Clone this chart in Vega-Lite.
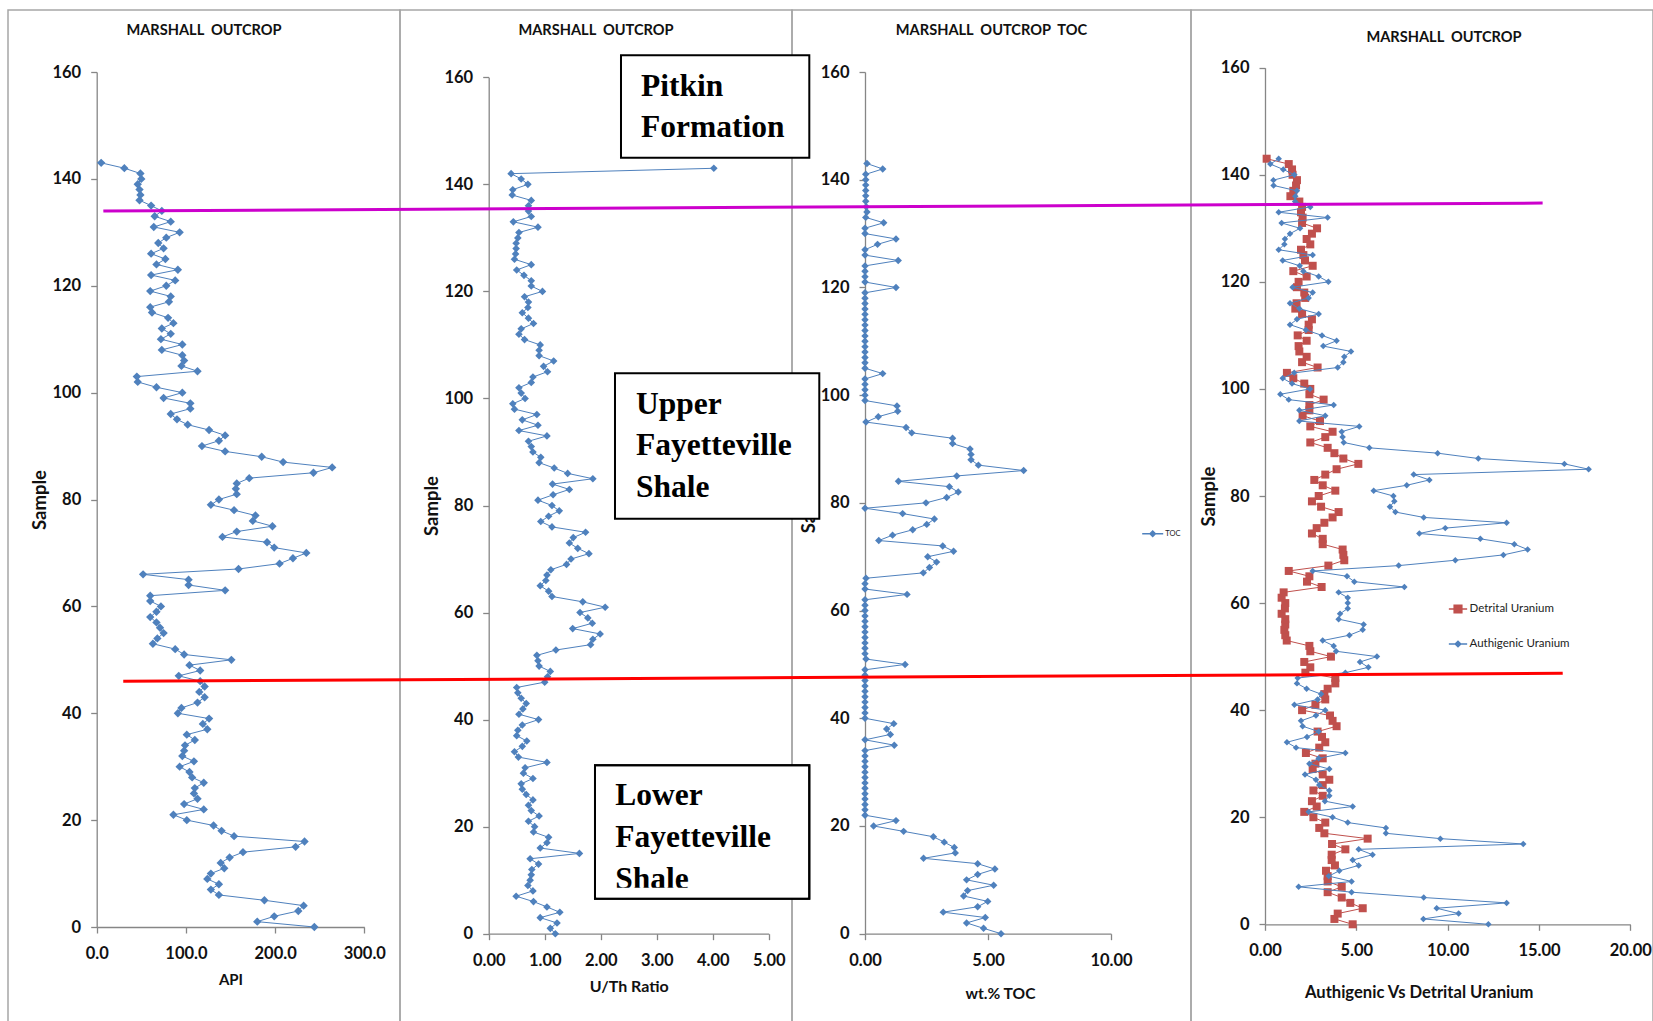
{
 "$schema": "https://vega.github.io/schema/vega-lite/v6.json",
 "padding": {"left": 7, "top": 9, "right": 0, "bottom": 0},
 "background": "white",
 "datasets": {"samples": [
  {"Sample":0,"API":244,"UTh":1.19,"TOC":5.53,"Detrital":4.80,"Authigenic":12.23},
  {"Sample":1,"API":180,"UTh":1.10,"TOC":4.82,"Detrital":3.80,"Authigenic":8.67},
  {"Sample":2,"API":199,"UTh":1.22,"TOC":4.13,"Detrital":3.98,"Authigenic":10.60},
  {"Sample":3,"API":226,"UTh":0.92,"TOC":4.89,"Detrital":5.35,"Authigenic":9.40},
  {"Sample":4,"API":232,"UTh":1.27,"TOC":3.18,"Detrital":4.67,"Authigenic":13.23},
  {"Sample":5,"API":188,"UTh":1.04,"TOC":4.58,"Detrital":4.20,"Authigenic":8.69},
  {"Sample":6,"API":137,"UTh":0.80,"TOC":4.99,"Detrital":3.43,"Authigenic":4.74},
  {"Sample":7,"API":128,"UTh":0.49,"TOC":4.01,"Detrital":4.20,"Authigenic":1.84},
  {"Sample":8,"API":137,"UTh":0.79,"TOC":4.17,"Detrital":3.43,"Authigenic":4.74},
  {"Sample":9,"API":124,"UTh":0.70,"TOC":5.23,"Detrital":3.43,"Authigenic":3.49},
  {"Sample":10,"API":128,"UTh":0.74,"TOC":4.13,"Detrital":3.34,"Authigenic":4.07},
  {"Sample":11,"API":143,"UTh":0.76,"TOC":4.58,"Detrital":3.83,"Authigenic":5.13},
  {"Sample":12,"API":139,"UTh":0.77,"TOC":5.28,"Detrital":3.65,"Authigenic":4.80},
  {"Sample":13,"API":149,"UTh":0.89,"TOC":4.58,"Detrital":3.65,"Authigenic":5.89},
  {"Sample":14,"API":164,"UTh":0.74,"TOC":2.38,"Detrital":4.40,"Authigenic":5.13},
  {"Sample":15,"API":223,"UTh":1.62,"TOC":3.67,"Detrital":3.67,"Authigenic":14.14},
  {"Sample":16,"API":233,"UTh":0.92,"TOC":3.63,"Detrital":5.62,"Authigenic":9.60},
  {"Sample":17,"API":154,"UTh":1.04,"TOC":3.22,"Detrital":3.25,"Authigenic":6.62},
  {"Sample":18,"API":140,"UTh":1.07,"TOC":2.78,"Detrital":2.97,"Authigenic":6.62},
  {"Sample":19,"API":131,"UTh":0.80,"TOC":1.57,"Detrital":3.30,"Authigenic":4.53},
  {"Sample":20,"API":101,"UTh":0.82,"TOC":0.35,"Detrital":2.65,"Authigenic":3.70},
  {"Sample":21,"API":86,"UTh":0.71,"TOC":1.26,"Detrital":2.15,"Authigenic":2.39},
  {"Sample":22,"API":120,"UTh":0.90,"TOC":0,"Detrital":2.83,"Authigenic":4.80},
  {"Sample":23,"API":98,"UTh":0.76,"TOC":0,"Detrital":2.57,"Authigenic":3.28},
  {"Sample":24,"API":113,"UTh":0.71,"TOC":0,"Detrital":3.16,"Authigenic":3.52},
  {"Sample":25,"API":109,"UTh":0.79,"TOC":0,"Detrital":2.65,"Authigenic":3.52},
  {"Sample":26,"API":110,"UTh":0.67,"TOC":0,"Detrital":3.16,"Authigenic":2.97},
  {"Sample":27,"API":120,"UTh":0.60,"TOC":0,"Detrital":3.52,"Authigenic":2.79},
  {"Sample":28,"API":107,"UTh":0.58,"TOC":0,"Detrital":3.16,"Authigenic":2.19},
  {"Sample":29,"API":104,"UTh":0.79,"TOC":0,"Detrital":2.61,"Authigenic":3.52},
  {"Sample":30,"API":93,"UTh":0.62,"TOC":0,"Detrital":2.76,"Authigenic":2.43},
  {"Sample":31,"API":109,"UTh":0.65,"TOC":0,"Detrital":3.16,"Authigenic":2.94},
  {"Sample":32,"API":96,"UTh":1.04,"TOC":0,"Detrital":2.24,"Authigenic":4.40},
  {"Sample":33,"API":98,"UTh":0.53,"TOC":0,"Detrital":2.97,"Authigenic":1.70},
  {"Sample":34,"API":99,"UTh":0.46,"TOC":0,"Detrital":3.30,"Authigenic":1.20},
  {"Sample":35,"API":110,"UTh":0.60,"TOC":1.19,"Detrital":3.12,"Authigenic":2.30},
  {"Sample":36,"API":101,"UTh":0.68,"TOC":0,"Detrital":2.88,"Authigenic":2.94},
  {"Sample":37,"API":124,"UTh":0.50,"TOC":1.03,"Detrital":3.92,"Authigenic":2.06},
  {"Sample":38,"API":119,"UTh":0.52,"TOC":0.88,"Detrital":3.70,"Authigenic":1.97},
  {"Sample":39,"API":126,"UTh":0.60,"TOC":1.17,"Detrital":3.56,"Authigenic":2.79},
  {"Sample":40,"API":91,"UTh":0.89,"TOC":0,"Detrital":2.03,"Authigenic":3.30},
  {"Sample":41,"API":95,"UTh":0.54,"TOC":0,"Detrital":2.76,"Authigenic":1.61},
  {"Sample":42,"API":113,"UTh":0.61,"TOC":0,"Detrital":3.30,"Authigenic":2.88},
  {"Sample":43,"API":121,"UTh":0.67,"TOC":0,"Detrital":3.25,"Authigenic":3.07},
  {"Sample":44,"API":115,"UTh":0.58,"TOC":0,"Detrital":3.43,"Authigenic":2.28},
  {"Sample":45,"API":121,"UTh":0.52,"TOC":0,"Detrital":3.85,"Authigenic":1.75},
  {"Sample":46,"API":116,"UTh":0.50,"TOC":0,"Detrital":3.85,"Authigenic":1.79},
  {"Sample":47,"API":92,"UTh":1.00,"TOC":0,"Detrital":2.21,"Authigenic":4.40},
  {"Sample":48,"API":116,"UTh":1.05,"TOC":0,"Detrital":2.48,"Authigenic":5.66},
  {"Sample":49,"API":104,"UTh":1.10,"TOC":0,"Detrital":2.15,"Authigenic":5.20},
  {"Sample":50,"API":151,"UTh":0.90,"TOC":1.63,"Detrital":3.61,"Authigenic":6.13},
  {"Sample":51,"API":98,"UTh":0.88,"TOC":0.04,"Detrital":2.48,"Authigenic":3.89},
  {"Sample":52,"API":88,"UTh":0.86,"TOC":0,"Detrital":2.43,"Authigenic":3.76},
  {"Sample":53,"API":63,"UTh":1.20,"TOC":0,"Detrital":1.19,"Authigenic":3.16},
  {"Sample":54,"API":68,"UTh":1.82,"TOC":0,"Detrital":1.11,"Authigenic":4.62},
  {"Sample":55,"API":75,"UTh":1.86,"TOC":0,"Detrital":1.06,"Authigenic":5.35},
  {"Sample":56,"API":71,"UTh":1.99,"TOC":0,"Detrital":1.11,"Authigenic":5.40},
  {"Sample":57,"API":67,"UTh":1.50,"TOC":0,"Detrital":1.11,"Authigenic":4.03},
  {"Sample":58,"API":60,"UTh":1.85,"TOC":0,"Detrital":0.91,"Authigenic":4.11},
  {"Sample":59,"API":67,"UTh":1.77,"TOC":0,"Detrital":1.09,"Authigenic":4.53},
  {"Sample":60,"API":72,"UTh":1.63,"TOC":0,"Detrital":1.11,"Authigenic":4.53},
  {"Sample":61,"API":60,"UTh":2.08,"TOC":0,"Detrital":0.91,"Authigenic":4.53},
  {"Sample":62,"API":60,"UTh":1.68,"TOC":0,"Detrital":1.02,"Authigenic":4.03},
  {"Sample":63,"API":144,"UTh":1.13,"TOC":1.71,"Detrital":3.10,"Authigenic":7.63},
  {"Sample":64,"API":103,"UTh":1.07,"TOC":0,"Detrital":2.30,"Authigenic":4.89},
  {"Sample":65,"API":103,"UTh":0.92,"TOC":0,"Detrital":2.43,"Authigenic":4.49},
  {"Sample":66,"API":52,"UTh":1.02,"TOC":0.04,"Detrital":1.30,"Authigenic":2.61},
  {"Sample":67,"API":159,"UTh":1.04,"TOC":2.37,"Detrital":3.47,"Authigenic":7.32},
  {"Sample":68,"API":205,"UTh":1.11,"TOC":2.62,"Detrital":4.34,"Authigenic":10.42},
  {"Sample":69,"API":220,"UTh":1.39,"TOC":2.91,"Detrital":4.29,"Authigenic":13.05},
  {"Sample":70,"API":235,"UTh":1.47,"TOC":2.55,"Detrital":4.25,"Authigenic":14.38},
  {"Sample":71,"API":199,"UTh":1.79,"TOC":3.60,"Detrital":3.16,"Authigenic":13.65},
  {"Sample":72,"API":191,"UTh":1.59,"TOC":3.16,"Detrital":3.16,"Authigenic":11.79},
  {"Sample":73,"API":141,"UTh":1.44,"TOC":0.56,"Detrital":2.57,"Authigenic":8.45},
  {"Sample":74,"API":157,"UTh":1.51,"TOC":1.12,"Detrital":2.83,"Authigenic":9.87},
  {"Sample":75,"API":197,"UTh":1.73,"TOC":1.94,"Detrital":3.25,"Authigenic":13.23},
  {"Sample":76,"API":175,"UTh":1.13,"TOC":2.51,"Detrital":3.70,"Authigenic":8.69},
  {"Sample":77,"API":178,"UTh":0.93,"TOC":2.82,"Detrital":4.03,"Authigenic":7.14},
  {"Sample":78,"API":154,"UTh":1.07,"TOC":1.53,"Detrital":3.07,"Authigenic":6.84},
  {"Sample":79,"API":128,"UTh":1.26,"TOC":0,"Detrital":2.57,"Authigenic":7.08},
  {"Sample":80,"API":137,"UTh":1.13,"TOC":2.48,"Detrital":2.94,"Authigenic":7.03},
  {"Sample":81,"API":157,"UTh":0.88,"TOC":3.32,"Detrital":3.85,"Authigenic":5.95},
  {"Sample":82,"API":156,"UTh":1.15,"TOC":3.79,"Detrital":3.16,"Authigenic":7.76},
  {"Sample":83,"API":157,"UTh":1.44,"TOC":3.43,"Detrital":2.70,"Authigenic":9.00},
  {"Sample":84,"API":171,"UTh":1.14,"TOC":1.36,"Detrital":3.30,"Authigenic":8.14},
  {"Sample":85,"API":243,"UTh":1.86,"TOC":3.73,"Detrital":3.92,"Authigenic":17.72},
  {"Sample":86,"API":264,"UTh":1.41,"TOC":6.45,"Detrital":5.11,"Authigenic":16.39},
  {"Sample":87,"API":209,"UTh":1.17,"TOC":4.61,"Detrital":4.29,"Authigenic":11.68},
  {"Sample":88,"API":185,"UTh":0.90,"TOC":4.31,"Detrital":3.80,"Authigenic":9.45},
  {"Sample":89,"API":144,"UTh":0.93,"TOC":4.31,"Detrital":3.43,"Authigenic":5.71},
  {"Sample":90,"API":118,"UTh":0.79,"TOC":4.27,"Detrital":2.48,"Authigenic":4.31},
  {"Sample":91,"API":137,"UTh":0.76,"TOC":3.56,"Detrital":3.30,"Authigenic":4.25},
  {"Sample":92,"API":144,"UTh":0.71,"TOC":3.56,"Detrital":3.70,"Authigenic":4.20},
  {"Sample":93,"API":126,"UTh":1.04,"TOC":1.90,"Detrital":2.48,"Authigenic":5.16},
  {"Sample":94,"API":102,"UTh":0.54,"TOC":1.67,"Detrital":3.01,"Authigenic":1.88},
  {"Sample":95,"API":90,"UTh":0.88,"TOC":0.04,"Detrital":2.06,"Authigenic":3.30},
  {"Sample":96,"API":83,"UTh":0.60,"TOC":0.54,"Detrital":2.43,"Authigenic":1.88},
  {"Sample":97,"API":105,"UTh":0.86,"TOC":1.33,"Detrital":2.43,"Authigenic":3.76},
  {"Sample":98,"API":105,"UTh":0.46,"TOC":1.30,"Detrital":3.21,"Authigenic":1.30},
  {"Sample":99,"API":75,"UTh":0.43,"TOC":0,"Detrital":2.43,"Authigenic":0.84},
  {"Sample":100,"API":96,"UTh":0.65,"TOC":0,"Detrital":2.48,"Authigenic":2.46},
  {"Sample":101,"API":67,"UTh":0.58,"TOC":0,"Detrital":2.15,"Authigenic":1.48},
  {"Sample":102,"API":46,"UTh":0.54,"TOC":0,"Detrital":1.55,"Authigenic":0.97},
  {"Sample":103,"API":45,"UTh":0.76,"TOC":0,"Detrital":1.20,"Authigenic":1.60},
  {"Sample":104,"API":113,"UTh":0.79,"TOC":0.72,"Detrital":2.88,"Authigenic":3.98},
  {"Sample":105,"API":95,"UTh":1.05,"TOC":0,"Detrital":2.03,"Authigenic":4.29},
  {"Sample":106,"API":98,"UTh":0.98,"TOC":0,"Detrital":2.28,"Authigenic":4.34},
  {"Sample":107,"API":96,"UTh":1.16,"TOC":0,"Detrital":1.88,"Authigenic":4.71},
  {"Sample":108,"API":73,"UTh":0.90,"TOC":0,"Detrital":1.84,"Authigenic":3.19},
  {"Sample":109,"API":96,"UTh":0.90,"TOC":0,"Detrital":2.28,"Authigenic":3.92},
  {"Sample":110,"API":72,"UTh":0.92,"TOC":0,"Detrital":1.79,"Authigenic":3.12},
  {"Sample":111,"API":83,"UTh":0.64,"TOC":0,"Detrital":2.39,"Authigenic":2.24},
  {"Sample":112,"API":73,"UTh":0.54,"TOC":0,"Detrital":2.39,"Authigenic":1.37},
  {"Sample":113,"API":86,"UTh":0.58,"TOC":0,"Detrital":2.57,"Authigenic":1.75},
  {"Sample":114,"API":80,"UTh":0.80,"TOC":0,"Detrital":2.03,"Authigenic":2.94},
  {"Sample":115,"API":62,"UTh":0.71,"TOC":0,"Detrital":1.66,"Authigenic":1.88},
  {"Sample":116,"API":60,"UTh":0.60,"TOC":0,"Detrital":1.73,"Authigenic":1.37},
  {"Sample":117,"API":81,"UTh":0.70,"TOC":0,"Detrital":2.20,"Authigenic":2.39},
  {"Sample":118,"API":83,"UTh":0.71,"TOC":0,"Detrital":2.15,"Authigenic":2.61},
  {"Sample":119,"API":60,"UTh":0.64,"TOC":0,"Detrital":1.75,"Authigenic":1.51},
  {"Sample":120,"API":78,"UTh":0.96,"TOC":1.26,"Detrital":1.84,"Authigenic":3.47},
  {"Sample":121,"API":88,"UTh":0.76,"TOC":0,"Detrital":2.28,"Authigenic":2.94},
  {"Sample":122,"API":61,"UTh":0.76,"TOC":0,"Detrital":1.55,"Authigenic":2.10},
  {"Sample":123,"API":91,"UTh":0.63,"TOC":0,"Detrital":2.61,"Authigenic":1.90},
  {"Sample":124,"API":67,"UTh":0.50,"TOC":0,"Detrital":2.19,"Authigenic":0.97},
  {"Sample":125,"API":77,"UTh":0.76,"TOC":1.35,"Detrital":2.10,"Authigenic":2.61},
  {"Sample":126,"API":61,"UTh":0.46,"TOC":0,"Detrital":1.97,"Authigenic":0.75},
  {"Sample":127,"API":75,"UTh":0.48,"TOC":0,"Detrital":2.48,"Authigenic":1.06},
  {"Sample":128,"API":69,"UTh":0.49,"TOC":0.51,"Detrital":2.28,"Authigenic":1.09},
  {"Sample":129,"API":78,"UTh":0.49,"TOC":1.26,"Detrital":2.57,"Authigenic":1.37},
  {"Sample":130,"API":93,"UTh":0.52,"TOC":0,"Detrital":2.85,"Authigenic":1.92},
  {"Sample":131,"API":64,"UTh":0.54,"TOC":0,"Detrital":2.03,"Authigenic":0.91},
  {"Sample":132,"API":83,"UTh":0.88,"TOC":0.76,"Detrital":2.06,"Authigenic":3.43},
  {"Sample":133,"API":65,"UTh":0.44,"TOC":0.03,"Detrital":1.97,"Authigenic":0.75},
  {"Sample":134,"API":73,"UTh":0.76,"TOC":0.08,"Detrital":2.03,"Authigenic":2.48},
  {"Sample":135,"API":61,"UTh":0.71,"TOC":0.05,"Detrital":1.88,"Authigenic":1.65},
  {"Sample":136,"API":48,"UTh":0.71,"TOC":0.03,"Detrital":1.39,"Authigenic":1.66},
  {"Sample":137,"API":49,"UTh":0.76,"TOC":0.03,"Detrital":1.55,"Authigenic":1.75},
  {"Sample":138,"API":48,"UTh":0.42,"TOC":0.03,"Detrital":1.70,"Authigenic":0.47},
  {"Sample":139,"API":46,"UTh":0.43,"TOC":0.03,"Detrital":1.75,"Authigenic":0.46},
  {"Sample":140,"API":50,"UTh":0.70,"TOC":0.03,"Detrital":1.51,"Authigenic":1.61},
  {"Sample":141,"API":49,"UTh":0.58,"TOC":0.03,"Detrital":1.48,"Authigenic":1.00},
  {"Sample":142,"API":31,"UTh":0.40,"TOC":0.72,"Detrital":1.30,"Authigenic":0.29},
  {"Sample":143,"API":5,"UTh":4.02,"TOC":0.08,"Detrital":0.09,"Authigenic":0.75}
 ]},
 "spacing": 0,
 "bounds": "flush",
 "resolve": {"scale": {"fill": "independent", "x": "independent", "y": "independent"}, "legend": {"fill": "independent"}},
 "hconcat": [
  {
   "width": 392, "height": 1012,
   "title": {"text": "MARSHALL\u00a0 OUTCROP"},
   "data": {"name": "samples"},
   "layer": [
    {"mark": {"type": "line", "color": "#4f81bd", "strokeWidth": 1},
     "encoding": {
      "x": {"field": "API", "type": "quantitative", "scale": {"domain": [0, 300], "range": [88.7, 356.3], "nice": false, "zero": false}, "axis": {"title": "API", "values": [0, 100, 200, 300], "format": ".1f", "offset": -95, "titlePadding": 10}},
      "y": {"field": "Sample", "type": "quantitative", "scale": {"domain": [0, 160], "range": [917, 62], "nice": false, "zero": false}, "axis": {"title": "Sample", "values": [0, 20, 40, 60, 80, 100, 120, 140, 160], "format": "d", "offset": -88.7}},
      "order": {"field": "Sample", "type": "quantitative"}}},
    {"mark": {"type": "point", "shape": "diamond", "filled": true, "size": 70, "color": "#4f81bd", "opacity": 1},
     "encoding": {"x": {"field": "API", "type": "quantitative"}, "y": {"field": "Sample", "type": "quantitative"}}}
   ]
  },
  {
   "width": 392, "height": 1012,
   "title": {"text": "MARSHALL\u00a0 OUTCROP"},
   "data": {"name": "samples"},
   "layer": [
    {"mark": {"type": "line", "color": "#4f81bd", "strokeWidth": 1},
     "encoding": {
      "x": {"field": "UTh", "type": "quantitative", "scale": {"domain": [0, 5], "range": [88.7, 368.7], "nice": false, "zero": false}, "axis": {"title": "U/Th Ratio", "values": [0, 1, 2, 3, 4, 5], "format": ".2f", "offset": -88.3, "titlePadding": 10, "titleFontSize": 16}},
      "y": {"field": "Sample", "type": "quantitative", "scale": {"domain": [0, 160], "range": [923.7, 67.3], "nice": false, "zero": false}, "axis": {"title": "Sample", "values": [0, 20, 40, 60, 80, 100, 120, 140, 160], "format": "d", "offset": -88.7}},
      "order": {"field": "Sample", "type": "quantitative"}}},
    {"mark": {"type": "point", "shape": "diamond", "filled": true, "size": 58, "color": "#4f81bd", "opacity": 1},
     "encoding": {"x": {"field": "UTh", "type": "quantitative"}, "y": {"field": "Sample", "type": "quantitative"}}}
   ]
  },
  {
   "width": 399, "height": 1012,
   "title": {"text": "MARSHALL\u00a0 OUTCROP\u00a0 TOC"},
   "data": {"name": "samples"},
   "layer": [
    {"mark": {"type": "line", "color": "#4f81bd", "strokeWidth": 1},
     "encoding": {
      "x": {"field": "TOC", "type": "quantitative", "scale": {"domain": [0, 10], "range": [73, 319], "nice": false, "zero": false}, "axis": {"title": "wt.% TOC", "values": [0, 5, 10], "format": ".2f", "offset": -88.3, "titlePadding": 18, "titleX": 208, "titleFontSize": 15.6}},
      "y": {"field": "Sample", "type": "quantitative", "scale": {"domain": [0, 160], "range": [923.7, 62], "nice": false, "zero": false}, "axis": {"title": "Sample", "values": [0, 20, 40, 60, 80, 100, 120, 140, 160], "format": "d", "offset": -73}},
      "order": {"field": "Sample", "type": "quantitative"}}},
    {"mark": {"type": "point", "shape": "diamond", "filled": true, "size": 55, "opacity": 1},
     "encoding": {"x": {"field": "TOC", "type": "quantitative"}, "y": {"field": "Sample", "type": "quantitative"},
      "fill": {"datum": "TOC", "type": "nominal", "scale": {"range": ["#4f81bd"]}, "legend": {"title": null, "orient": "none", "legendX": 350.2, "legendY": 513.2, "symbolType": "M-1,-0.065H1V0.065H-1ZM0,-0.36L0.36,0L0,0.36L-0.36,0Z", "symbolSize": 441, "symbolStrokeWidth": 0, "labelFont": "Lato", "labelFontSize": 7.5, "labelColor": "#222222", "labelOffset": 2, "padding": 0}}}},
    {"data": {"values": [{}]}, "mark": {"type": "rect", "fill": "white", "stroke": "black", "strokeWidth": 2},
     "encoding": {"x": {"datum": -9.919}, "x2": {"datum": -2.264}, "y": {"datum": 163.10}, "y2": {"datum": 144.09}}},
    {"data": {"values": [{}]}, "mark": {"type": "rect", "fill": "white", "stroke": "black", "strokeWidth": 2},
     "encoding": {"x": {"datum": -10.163}, "x2": {"datum": -1.858}, "y": {"datum": 104.05}, "y2": {"datum": 77.06}}},
    {"data": {"values": [{}]}, "mark": {"type": "rect", "fill": "white", "stroke": "black", "strokeWidth": 2},
     "encoding": {"x": {"datum": -10.976}, "x2": {"datum": -2.264}, "y": {"datum": 31.27}, "y2": {"datum": 6.50}}},
    {"data": {"values": [{}]}, "mark": {"type": "text", "text": ["Pitkin", "Formation"], "font": "Liberation Serif", "fontWeight": "bold", "fontSize": 31.5, "align": "left", "baseline": "alphabetic", "lineHeight": 41, "color": "black"},
     "encoding": {"x": {"datum": -9.106}, "y": {"datum": 155.53}}},
    {"data": {"values": [{}]}, "mark": {"type": "text", "text": ["Upper", "Fayetteville", "Shale"], "font": "Liberation Serif", "fontWeight": "bold", "fontSize": 31.5, "align": "left", "baseline": "alphabetic", "lineHeight": 41.7, "color": "black"},
     "encoding": {"x": {"datum": -9.309}, "y": {"datum": 96.55}}},
    {"data": {"values": [{}]}, "mark": {"type": "text", "text": ["Lower", "Fayetteville", "Shale"], "font": "Liberation Serif", "fontWeight": "bold", "fontSize": 31.5, "align": "left", "baseline": "alphabetic", "lineHeight": 41.8, "color": "black"},
     "encoding": {"x": {"datum": -10.15}, "y": {"datum": 23.90}}},
    {"data": {"values": [{}]}, "mark": {"type": "rect", "fill": "white", "strokeWidth": 0},
     "encoding": {"x": {"datum": -10.90}, "x2": {"datum": -2.34}, "y": {"datum": 8.54}, "y2": {"datum": 6.72}}},
    {"data": {"values": [{}]}, "mark": {"type": "rect", "filled": false, "stroke": "black", "strokeWidth": 2},
     "encoding": {"x": {"datum": -10.976}, "x2": {"datum": -2.264}, "y": {"datum": 31.27}, "y2": {"datum": 6.50}}}
   ]
  },
  {
   "width": 462, "height": 1012,
   "title": {"text": "MARSHALL\u00a0 OUTCROP", "dx": 22, "offset": -35},
   "data": {"name": "samples"},
   "resolve": {"scale": {"fill": "independent"}, "legend": {"fill": "independent"}},
   "layer": [
    {"mark": {"type": "line", "color": "#c0504d", "strokeWidth": 1},
     "encoding": {
      "x": {"field": "Detrital", "type": "quantitative", "title": "Authigenic Vs Detrital Uranium", "scale": {"domain": [0, 20], "range": [74, 439.3], "nice": false, "zero": false}, "axis": {"title": "Authigenic Vs Detrital Uranium", "values": [0, 5, 10, 15, 20], "format": ".2f", "offset": -97.7, "titlePadding": 25, "titleX": 227.7, "titleFontSize": 16.6}},
      "y": {"field": "Sample", "type": "quantitative", "scale": {"domain": [0, 160], "range": [914.3, 57.7], "nice": false, "zero": false}, "axis": {"title": "Sample", "values": [0, 20, 40, 60, 80, 100, 120, 140, 160], "format": "d", "offset": -74}},
      "order": {"field": "Sample", "type": "quantitative"}}},
    {"mark": {"type": "point", "shape": "square", "filled": true, "size": 64, "opacity": 1},
     "encoding": {"x": {"field": "Detrital", "type": "quantitative", "title": "Authigenic Vs Detrital Uranium"}, "y": {"field": "Sample", "type": "quantitative"},
      "fill": {"datum": "Detrital Uranium", "type": "nominal", "scale": {"range": ["#c0504d"]}, "legend": {"title": null, "orient": "none", "legendX": 257.5, "legendY": 589.5, "symbolType": "M-1,-0.08H1V0.08H-1ZM-0.5,-0.5H0.5V0.5H-0.5Z", "symbolSize": 335, "symbolStrokeWidth": 0, "labelFont": "Lato", "labelFontSize": 11.5, "labelColor": "#222222", "labelOffset": 2, "padding": 0}}}},
    {"mark": {"type": "line", "color": "#4f81bd", "strokeWidth": 1},
     "encoding": {"x": {"field": "Authigenic", "type": "quantitative", "title": "Authigenic Vs Detrital Uranium"}, "y": {"field": "Sample", "type": "quantitative"}, "order": {"field": "Sample", "type": "quantitative"}}},
    {"mark": {"type": "point", "shape": "diamond", "filled": true, "size": 42, "opacity": 1},
     "encoding": {"x": {"field": "Authigenic", "type": "quantitative", "title": "Authigenic Vs Detrital Uranium"}, "y": {"field": "Sample", "type": "quantitative"},
      "fill": {"datum": "Authigenic Uranium", "type": "nominal", "scale": {"range": ["#4f81bd"]}, "legend": {"title": null, "orient": "none", "legendX": 257.5, "legendY": 624.5, "symbolType": "M-1,-0.08H1V0.08H-1ZM0,-0.42L0.42,0L0,0.42L-0.42,0Z", "symbolSize": 335, "symbolStrokeWidth": 0, "labelFont": "Lato", "labelFontSize": 11.5, "labelColor": "#222222", "labelOffset": 2, "padding": 0}}}},
    {"data": {"values": [{}]}, "mark": {"type": "rule", "color": "#cc00cc", "strokeWidth": 3},
     "encoding": {"x": {"datum": -63.6}, "x2": {"datum": 15.2}, "y": {"datum": 133.23}, "y2": {"datum": 134.72}}},
    {"data": {"values": [{}]}, "mark": {"type": "rule", "color": "#ff0000", "strokeWidth": 3},
     "encoding": {"x": {"datum": -62.51}, "x2": {"datum": 16.3}, "y": {"datum": 45.39}, "y2": {"datum": 46.88}}}
   ]
  }
 ],
 "config": {
  "view": {"stroke": "#a6a6a6", "strokeWidth": 1.5},
  "axis": {"grid": false, "domainColor": "#868686", "domainWidth": 1.3, "tickColor": "#868686", "tickWidth": 1.3, "tickSize": 6, "labelFont": "Lato", "labelFontSize": 16.5, "labelFontWeight": "bold", "labelColor": "#111111", "titleFont": "Lato", "titleFontSize": 15, "titleFontWeight": "bold", "titleColor": "#111111", "labelFlush": false, "labelOverlap": false},
  "axisX": {"labelPadding": 12.5},
  "axisY": {"labelPadding": 10, "titlePadding": 2, "titleFontSize": 18.5},
  "title": {"font": "Lato", "fontSize": 14.6, "fontWeight": "bold", "color": "#111111", "anchor": "middle", "frame": "group", "offset": -28}
 }
}
